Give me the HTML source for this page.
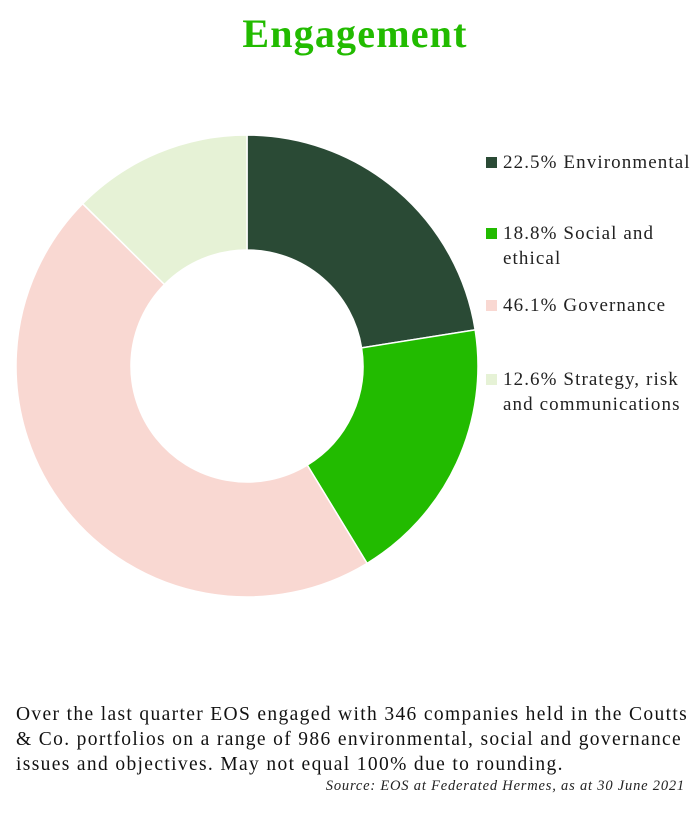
<!DOCTYPE html>
<html><head><meta charset="utf-8"><style>
body{margin:0;width:700px;height:830px;background:#fff;font-family:"Liberation Serif",serif;position:relative;overflow:hidden}
#title{position:absolute;left:0;width:710px;top:10px;text-align:center;font-size:40px;letter-spacing:1.2px;font-weight:bold;color:#22bb00}
.leg{position:absolute;left:486px;font-size:19px;letter-spacing:1.1px;color:#222;line-height:25px;white-space:nowrap}
.sw{position:absolute;left:0;top:7px;width:11px;height:11px}
.lt{margin-left:17px;display:block}
#foot{position:absolute;left:16px;top:702px;width:690px;font-size:19.5px;letter-spacing:1.35px;line-height:25px;color:#111;white-space:nowrap}
#src{position:absolute;right:15px;top:778px;font-size:14.5px;letter-spacing:0.8px;font-style:italic;color:#222}
</style></head><body>
<div id="title">Engagement</div>
<svg id="chart" width="700" height="830" style="position:absolute;left:0;top:0"></svg>
<div class="leg" style="top:150px"><span class="sw" style="background:#2a4a35"></span><span class="lt">22.5% Environmental</span></div>
<div class="leg" style="top:221px"><span class="sw" style="background:#22bb00"></span><span class="lt">18.8% Social and<br>ethical</span></div>
<div class="leg" style="top:293px"><span class="sw" style="background:#f9d8d2"></span><span class="lt">46.1% Governance</span></div>
<div class="leg" style="top:367px"><span class="sw" style="background:#e6f2d6"></span><span class="lt">12.6% Strategy, risk<br>and communications</span></div>
<div id="foot">Over the last quarter EOS engaged with 346 companies held in the Coutts<br>&amp; Co. portfolios on a range of 986 environmental, social and governance<br>issues and objectives. May not equal 100% due to rounding.</div>
<div id="src">Source: EOS at Federated Hermes, as at 30 June 2021</div>
<script>
const categories=["Environmental","Social and ethical","Governance","Strategy, risk and communications"];
const values=[22.5,18.8,46.1,12.6];
const colors=["#2a4a35","#22bb00","#f9d8d2","#e6f2d6"];
const svg=document.getElementById('chart');
const cx=247,cy=366,R=231,r=116;
const total=values.reduce((a,b)=>a+b,0);
let a0=0;
function pt(a,rad){return [cx+rad*Math.sin(a),cy-rad*Math.cos(a)];}
values.forEach((v,i)=>{
 const a1=a0+v/total*2*Math.PI;
 const large=(a1-a0)>Math.PI?1:0;
 const p1=pt(a0,R),p2=pt(a1,R),p3=pt(a1,r),p4=pt(a0,r);
 const p=document.createElementNS('http://www.w3.org/2000/svg','path');
 p.setAttribute('d',`M${p1}A${R},${R} 0 ${large} 1 ${p2}L${p3}A${r},${r} 0 ${large} 0 ${p4}Z`);
 p.setAttribute('fill',colors[i]);
 p.setAttribute('stroke','#fff');p.setAttribute('stroke-width','1.5');
 
 
 svg.appendChild(p);
 a0=a1;
});
</script>
</body></html>
